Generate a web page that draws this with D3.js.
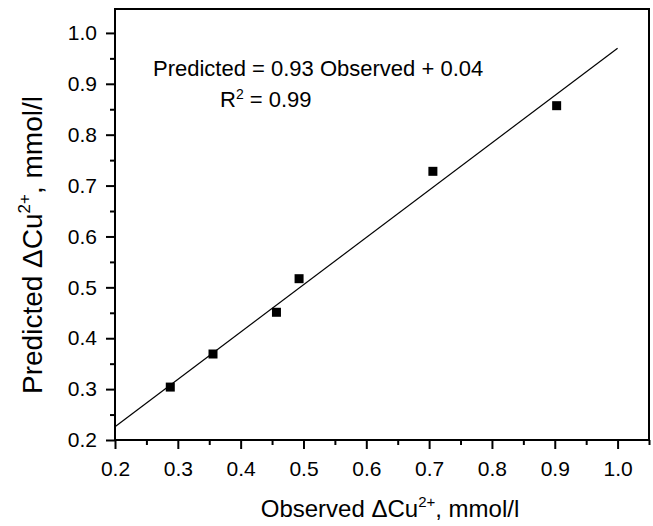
<!DOCTYPE html>
<html>
<head>
<meta charset="utf-8">
<script src="https://cdn.jsdelivr.net/npm/d3@7"></script>
<style>
  body { margin: 0; background: #fff; }
  text { font-family: "Liberation Sans", Arial, sans-serif; fill: #000; }
</style>
</head>
<body>
<div id="chart"></div>
<script>
  // Observed vs predicted values
  const observed = [0.288, 0.356, 0.457, 0.493, 0.706, 0.903];
  const predicted = [0.304, 0.369, 0.451, 0.517, 0.728, 0.857];

  // Fit line: Predicted = 0.93 Observed + 0.04
  const slope = 0.93;
  const intercept = 0.04;
  const fitRange = [0.2, 1.0];

  const xTicks = [0.2, 0.3, 0.4, 0.5, 0.6, 0.7, 0.8, 0.9, 1.0];
  const yTicks = [0.2, 0.3, 0.4, 0.5, 0.6, 0.7, 0.8, 0.9, 1.0];
  const minorTicks = [0.25, 0.35, 0.45, 0.55, 0.65, 0.75, 0.85, 0.95, 1.05];

  const [w, h] = [653, 526];
  const padL = 115, padR = 649, padT = 9, padB = 440;

  const x = d3.scaleLinear().domain([0.2, 1.05]).range([padL, padR]);
  const y = d3.scaleLinear().domain([0.2, 1.047]).range([padB, padT]);

  const svg = d3.select("#chart").append("svg")
    .attr("width", w)
    .attr("height", h);

  // Frame
  svg.append("rect")
    .attr("x", padL)
    .attr("y", padT)
    .attr("width", padR - padL)
    .attr("height", padB - padT)
    .attr("fill", "none")
    .attr("stroke", "#000")
    .attr("stroke-width", 2);

  const fmt = d3.format(".1f");

  // Axes
  svg.append("g")
    .attr("transform", `translate(0,${padB})`)
    .call(d3.axisBottom(x).tickValues(xTicks).tickFormat(fmt).tickSize(9).tickPadding(12));
  svg.append("g")
    .attr("transform", `translate(0,${padB})`)
    .call(d3.axisBottom(x).tickValues(minorTicks).tickFormat("").tickSize(5));

  svg.append("g")
    .attr("transform", `translate(${padL},0)`)
    .call(d3.axisLeft(y).tickValues(yTicks).tickFormat(fmt).tickSize(9).tickPadding(9));
  svg.append("g")
    .attr("transform", `translate(${padL},0)`)
    .call(d3.axisLeft(y).tickValues(minorTicks.filter(v => v < 1.04)).tickFormat("").tickSize(5));

  svg.selectAll(".domain").remove();
  svg.selectAll(".tick line").attr("stroke", "#000").attr("stroke-width", 2);
  svg.selectAll(".tick text").style("font-size", "21px").style("font-family", "'Liberation Sans', Arial, sans-serif");

  // Fit line
  svg.append("line")
    .attr("x1", x(fitRange[0]))
    .attr("y1", y(slope * fitRange[0] + intercept))
    .attr("x2", x(fitRange[1]))
    .attr("y2", y(slope * fitRange[1] + intercept))
    .attr("stroke", "#000")
    .attr("stroke-width", 1.2);

  // Points
  const sz = 9;
  svg.selectAll("rect.pt")
    .data(observed)
    .enter()
    .append("rect")
    .attr("class", "pt")
    .attr("x", d => x(d) - sz / 2)
    .attr("y", (d, i) => y(predicted[i]) - sz / 2)
    .attr("width", sz)
    .attr("height", sz)
    .attr("fill", "#000");

  // Equation text
  svg.append("text")
    .attr("x", 153)
    .attr("y", 76)
    .style("font-size", "22px")
    .text("Predicted = 0.93 Observed + 0.04");

  const r2 = svg.append("text")
    .attr("x", 220)
    .attr("y", 107)
    .style("font-size", "22px");
  r2.append("tspan").text("R");
  r2.append("tspan").attr("dy", -8).style("font-size", "14px").text("2");
  r2.append("tspan").attr("dy", 8).text(" = 0.99");

  // Axis labels
  const xl = svg.append("text")
    .attr("x", 390)
    .attr("y", 517)
    .attr("text-anchor", "middle")
    .style("font-size", "24px");
  xl.append("tspan").text("Observed \u0394Cu");
  xl.append("tspan").attr("dy", -10).style("font-size", "15px").text("2+");
  xl.append("tspan").attr("dy", 10).text(", mmol/l");

  const yl = svg.append("text")
    .attr("transform", `translate(42,245) rotate(-90)`)
    .attr("text-anchor", "middle")
    .style("font-size", "28px");
  yl.append("tspan").text("Predicted \u0394Cu");
  yl.append("tspan").attr("dy", -12).style("font-size", "17px").text("2+");
  yl.append("tspan").attr("dy", 12).text(", mmol/l");
</script>
</body>
</html>
